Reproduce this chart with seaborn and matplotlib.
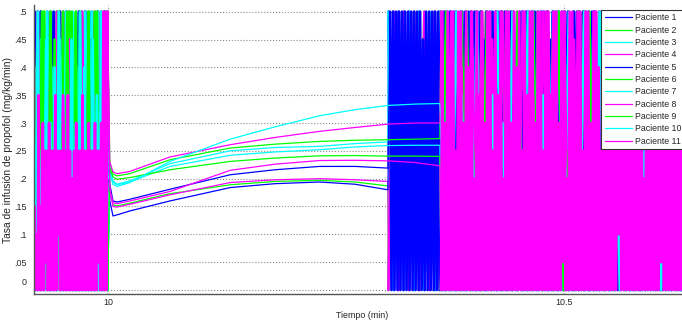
import numpy as np
import pandas as pd
import matplotlib
matplotlib.use("Agg")
import matplotlib.pyplot as plt
import seaborn as sns
from matplotlib.transforms import ScaledTranslation

# ---------------------------------------------------------------- data
patients = ["Paciente %d" % i for i in range(1, 12)]
colors = ["#0000ff", "#00ff00", "#00ffff", "#ff00ff", "#0000ff", "#00ff00",
          "#00ffff", "#ff00ff", "#00ff00", "#00ffff", "#ff00ff"]

x_ticks = [10, 10.5]
x_tick_labels = ["10", "10.5"]
y_ticks = [0, 0.05, 0.1, 0.15, 0.2, 0.25, 0.3, 0.35, 0.4, 0.45, 0.5]
y_tick_labels = ["0", ".05", ".1", ".15", ".2", ".25", ".3", ".35", ".4", ".45", ".5"]

# chattering samples are stored as multiples of 0.05 mg/kg/min
level_step = 0.05
left_span = (9.916, 9.9995)
right_end = 10.64
right_start = [10.3075, 10.3075, 10.3075, 10.3075, 10.3092,
               10.3652, 10.3652, 10.3652, 10.3652, 10.3652, 10.3652]

p1_left = [0,10,0,10,2,10,0,8,0,10,0,10,0,9,0,10,0,10,0,10,0,10,0,10,0]
p2_left = [10,0,10,0,10,0,10,1,10,0,10,0,10,0,10,0,9,0,10,0,10,0,10,0,10]
p3_left = [0,9,0,10,0,8,0,10,0,9,0,10,0,10,0,7,0,10,0,10,0,9,0,10,0]
p4_left = [6,0,10,0,7,0,10,0,6,0,10,0,10,0,7,0,10,0,6,0,10,0,8,0,10]
p5_left = [0,10,0,10,0,9,0,10,0,10,0,10,0,8,0,10,0,10,0,9,0,10,0,10,5]
p6_left = [10,0,10,0,10,0,10,0,10,2,10,0,10,0,10,0,10,0,10,0,10,0,10,0,10]
p7_left = [0,8,0,9,0,10,0,8,0,9,0,10,0,9,0,8,0,10,0,9,0,10,0,8,0]
p8_left = [7,0,10,0,6,0,8,0,10,0,7,0,9,0,6,0,10,0,8,0,7,0,10,0,10]
p9_left = [0,10,0,8,3,10,0,7,0,10,0,9,0,10,0,6,2,10,0,10,
           0,8,0,10,0,7,0,10,0,9,0,10,0,8,0,10,0]
p10_left = [0,7,0,10,0,5,0,9,0,6,0,8,0,10,0,5,0,7,0,9,
            0,6,0,10,0,8,0,5,0,9,0,7,0,10,0,10,4]
p11_left = [0,2,0,3,0,2,0,7,0,3, 0,6,0,5,1,5,0,6,0,5,
            0,5,0,7,0,5,2,5,0,5, 0,6,0,5,0,7,0,5,0,4,
            0,5,0,6,0,5,0,5,0,7, 0,5,0,5,0,6,0,5,0,5,
            0,6,0,5,1,5,0,6,0,10, 0,10,0,10]

# smooth stretch between the two chattering windows
curve_time = [10.002, 10.0055, 10.01, 10.024, 10.068, 10.134,
              10.183, 10.232, 10.271, 10.307, 10.337, 10.364]
p1_curve = [0.19, 0.160, 0.158, 0.163, 0.181, 0.207, 0.216, 0.222, 0.222, 0.219]
p2_curve = [0.18, 0.153, 0.151, 0.156, 0.173, 0.189, 0.195, 0.197, 0.194, 0.187]
p3_curve = [0.22, 0.196, 0.190, 0.196, 0.227, 0.250, 0.256, 0.258, 0.263, 0.266]
p4_curve = [0.18, 0.150, 0.149, 0.154, 0.171, 0.193, 0.198, 0.200, 0.198, 0.195]
p5_curve = [0.16, 0.133, 0.135, 0.142, 0.160, 0.184, 0.191, 0.194, 0.190, 0.180]
p6_curve = [0.23, 0.208, 0.205, 0.209, 0.234, 0.255, 0.262, 0.267, 0.269, 0.270, 0.271, 0.272]
p7_curve = [0.22, 0.194, 0.189, 0.194, 0.222, 0.242, 0.248, 0.252, 0.257, 0.2595, 0.260, 0.260]
p8_curve = [0.23, 0.212, 0.209, 0.213, 0.239, 0.261, 0.274, 0.285, 0.292, 0.298, 0.300, 0.300]
p9_curve = [0.22, 0.203, 0.199, 0.202, 0.216, 0.231, 0.237, 0.241, 0.2415, 0.2405, 0.2405, 0.240]
p10_curve = [0.21, 0.190, 0.186, 0.193, 0.231, 0.271, 0.293, 0.313, 0.324, 0.3315, 0.334, 0.335]
p11_curve = [0.18, 0.157, 0.155, 0.160, 0.177, 0.215, 0.226, 0.2326, 0.233, 0.232, 0.229, 0.223]

p1_right = [10,0,10,0,10,0,10,0,9,0, 10,0,10,0,10,0,10,0,10,0, 8,0,10,0,10,0,10,0,10,0,
            10,0,10,0,9,0,10,0,10,0, 10,0,10,0,10,0,10,0,10,0, 10,0,10,0,10,0,8,0,10,0]
p2_right = [0,10,0,10,0,10,0,10,0,10, 0,9,0,10,0,10,0,10,0,10, 0,10,0,10,0,7,0,10,0,10,
            0,10,0,10,0,10,0,10,0,10, 0,10,0,10,0,9,0,10,0,10, 0,10,0,10,0,10,0,10,0,10]
p3_right = [10,0,9,0,10,0,10,0,10,0, 10,0,10,0,8,0,10,0,10,0, 10,0,10,0,10,0,10,0,9,0,
            10,0,10,0,10,0,10,0,10,0, 7,0,10,0,10,0,10,0,10,0, 10,0,9,0,10,0,10,0,10,0]
p4_right = [0,10,0,10,0,10,0,10,0,10, 0,10,0,10,0,10,0,10,0,10, 0,10,0,10,0,10,0,10,0,8,
            0,10,0,10,0,10,0,10,0,10, 0,10,0,10,0,10,0,10,0,10, 0,10,0,8,0,10,0,10,0,10]
p5_right = [10,0,10,0,10,0,10,0,10,0, 10,0,10,0,10,0,10,0,10,0, 10,0,9,0,10,0,10,0,10,0,
            10,0,10,0,10,0,10,0,10,0, 10,0,10,0,10,0,7,0,10,0, 10,0,10,0,10,0,10,0,10,0,
            10,0,9,0,10,0,10,0,10,0, 10,0,10,0,10,0,10,0,10,0, 10,0,10,0,6,0,10,0,10,0,
            10,0,10,0,10,0,10,0,10,0, 10,0,10,0,10,0,9,0,10,0, 10,0,10,0,10,0,10,0,10,0,
            8,0,10,0,10,0,10,0,10,0, 10,0,10,0,10,0,10,0,7,0, 10,0,10,0,10,0,10,0,10,0,
            10,0,10,0,10,0,10,0,10,0, 10,0,10,0,9,0,10,0,10,0, 10,0,10,0,10,0,10,0,10,0,
            10,0,10,0,10,0,10,0,10,0, 10,0,10,0,10,0,10,0,10,0, 10]
p6_right = [10,0,6,0,10,0,5,0,10,0, 7,0,10,0,10,0,5,0,10,0, 6,0,10,0,10,0,7,0,10,0,
            5,0,10,0,10,0,6,0,10,0, 10,0,5,0,10,0,7,0,10,0]
p7_right = [0,9,0,10,0,8,0,10,0,9, 0,10,0,10,0,8,0,10,0,10, 0,9,0,10,0,10,0,8,0,10,
            0,10,0,9,0,10,0,10,0,8, 0,10,0,10,0,9,0,10,0,10]
p8_right = [10,0,10,0,8,0,10,0,10,0, 9,0,10,0,10,0,10,0,7,0, 10,0,10,0,10,0,9,0,10,0,
            10,0,8,0,10,0,10,0,10,0, 10,0,9,0,10,0,10,0,10,0]
p9_right = [0,10,0,5,0,10,0,6,0,10, 0,4,0,10,0,10,0,5,0,10, 0,6,0,10,0,5,0,10,0,10,
            0,4,0,10,0,6,0,10,0,5, 0,10,0,10,0,6,0,10,0,5]
p10_right = [6,0,5,0,7,0,6,0,5,0, 7,0,6,0,10,0,5,0,6,0, 7,0,5,0,6,0,7,0,10,0,
             6,0,5,0,7,0,6,0,5,0, 7,0,6,0,10,0,5,0,6,0]
p11_right = [0,10,0,6,0,10,0,7,0,10, 0,5,0,10,0,10,0,6,0,10, 0,8,0,10,0,4,0,10,0,7,
             0,10,0,6,0,10,0,10,0,5, 0,10,0,7,0,10,0,4,0,10, 0,10,0,6,0,10,0,8,0,10,
             0,5,0,10,0,7,0,10,0,10, 0,6,0,10,0,10,0,5,0,10, 0,10,0,7,0,10,0,10,0,6,
             0,10,1,10,0,4,0,10,0,10, 0,7,0,10,0,10,0,5,0,10, 0,10,0,6,0,10,0,10,0,8,
             0,5,0,10,0,10,0,7,0,10, 0,10,0,10,2,10,0,6,0,10, 0,8,0,10,0,10,0,10,0,5,
             0,10,0,4,0,10,0,7,0,10, 0,10,0,10,0,6,1,10,0,10, 0,6,0,10,0,10,0,10,0,7,
             0,10,0,5,0,10,0,10,0,10]

left_levels = [p1_left, p2_left, p3_left, p4_left, p5_left, p6_left,
               p7_left, p8_left, p9_left, p10_left, p11_left]
curves = [p1_curve, p2_curve, p3_curve, p4_curve, p5_curve, p6_curve,
          p7_curve, p8_curve, p9_curve, p10_curve, p11_curve]
right_levels = [p1_right, p2_right, p3_right, p4_right, p5_right, p6_right,
                p7_right, p8_right, p9_right, p10_right, p11_right]

# one row per sample; each patient is split into three stretches so the
# saturated chattering can be stroked heavier than the smooth response
frames = []
for k, (name, lv, cv, rv, rs) in enumerate(zip(patients, left_levels, curves,
                                               right_levels, right_start)):
    t_left = np.linspace(left_span[0], left_span[1], len(lv))
    r_left = np.array(lv) * level_step
    t_right = np.linspace(rs, right_end, len(rv))
    r_right = np.array(rv) * level_step
    t_mid = np.concatenate([[t_left[-1]], curve_time[:len(cv)], [t_right[0]]])
    r_mid = np.concatenate([[r_left[-1]], cv, [r_right[0]]])
    for part, tt, rr, kind in (("a", t_left, r_left, "chatter"),
                               ("b", t_mid, r_mid, "smooth"),
                               ("c", t_right, r_right, "chatter")):
        frames.append(pd.DataFrame({"Tiempo": tt, "Tasa": rr, "Paciente": name,
                                    "Tramo": "%02d%s" % (k, part), "Trazo": kind}))
df = pd.concat(frames, ignore_index=True)

# ---------------------------------------------------------------- figure
sns.set_style("white")
plt.rcParams["font.family"] = ["Liberation Sans", "DejaVu Sans"]
plt.rcParams["path.simplify"] = False

W, H = 682, 322
fig = plt.figure(figsize=(W / 100, H / 100), dpi=100)
ax = fig.add_axes([34 / W, (H - 293.5) / H, (690 - 34) / W, (293.5 - 5) / H])

sns.lineplot(data=df, x="Tiempo", y="Tasa", hue="Paciente", hue_order=patients,
             palette=colors, size="Trazo", sizes={"chatter": 1.9, "smooth": 0.9},
             units="Tramo", estimator=None, sort=False, legend="full", ax=ax)

ax.set_xlim(9.9189, 10.6382)
ax.set_ylim(-0.0063, 0.512)
ax.set_xticks(x_ticks)
ax.set_xticklabels(x_tick_labels)
ax.set_yticks(y_ticks)
ax.set_yticklabels(y_tick_labels)
ax.tick_params(axis="x", direction="in", length=4, width=0.8, color="#555555",
               labelsize=6.4, pad=3)
ax.tick_params(axis="y", direction="out", length=2, width=0.8, color="#555555",
               labelsize=6.4, pad=3.5)

ax.set_axisbelow(True)
ax.grid(True, linestyle=":", color="#8c8c8c", linewidth=0.8)

for side in ("top", "right"):
    ax.spines[side].set_visible(False)
for side in ("left", "bottom"):
    ax.spines[side].set_color("#555555")
    ax.spines[side].set_linewidth(1.0)

ax.set_xlabel("Tiempo (min)", fontsize=6.4, labelpad=3)
ax.set_ylabel("Tasa de infusión de propofol (mg/kg/min)", fontsize=7.4)
ax.yaxis.set_label_coords(-0.0315, 0.499)

handles, labels = ax.get_legend_handles_labels()
keep = [(h, l) for h, l in zip(handles, labels) if l in patients]
for h, _ in keep:
    h.set_linewidth(0.9)
ax.legend([h for h, _ in keep], [l for _, l in keep], loc="upper left",
          bbox_to_anchor=(601 / W, 1 - 10 / H), bbox_transform=fig.transFigure,
          borderaxespad=0, fontsize=6.3, labelspacing=0.38, handlelength=3.1,
          handletextpad=0.35, borderpad=0.4, frameon=True, fancybox=False,
          framealpha=1, edgecolor="#333333")
ax.get_legend().get_frame().set_linewidth(0.8)

# the zero label sits a little above its gridline
fig.canvas.draw()
zero_label = ax.yaxis.get_major_ticks()[0].label1
zero_label.set_transform(zero_label.get_transform()
                         + ScaledTranslation(0, 0.08, fig.dpi_scale_trans))

fig.savefig("out.png", dpi=100)
